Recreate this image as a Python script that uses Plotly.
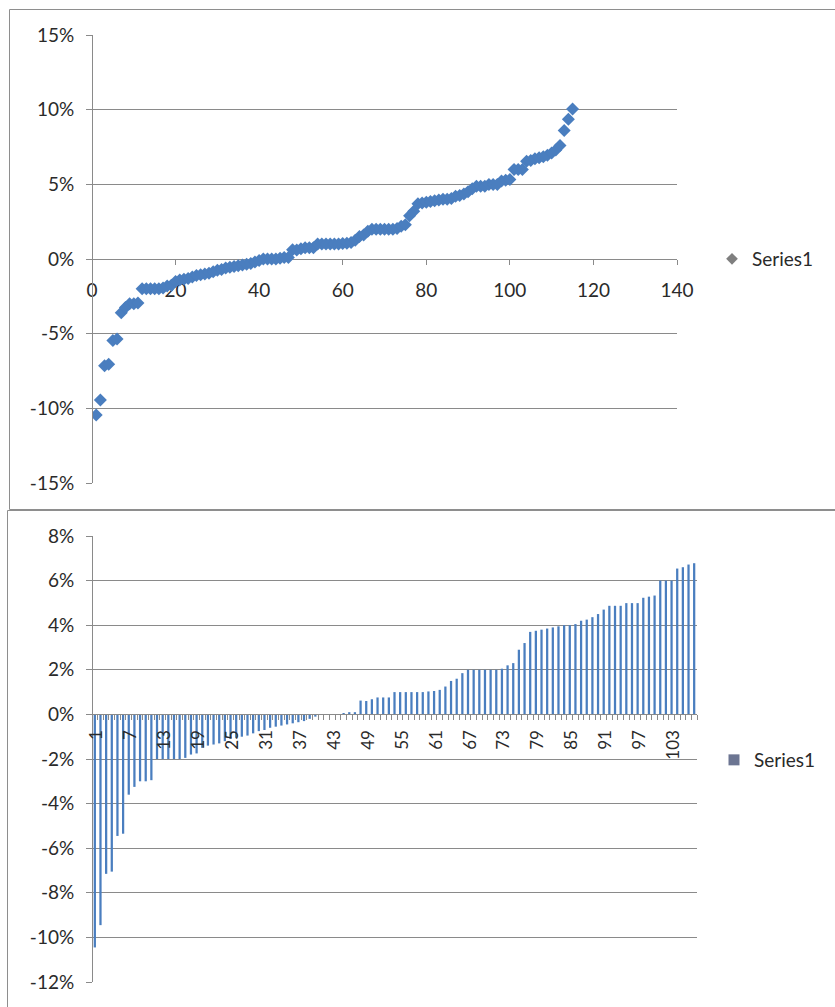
import plotly.graph_objects as go

# Sorted returns (percent), one value per observation
returns_pct = [
    -10.45, -9.45, -7.15, -7.05, -5.45, -5.35, -3.6, -3.25, -3.0, -3.0,
    -2.95, -2.0, -2.0, -2.0, -2.0, -2.0, -1.95, -1.8, -1.75, -1.5,
    -1.4, -1.35, -1.3, -1.2, -1.1, -1.05, -1.0, -0.95, -0.85, -0.75,
    -0.7, -0.6, -0.55, -0.5, -0.45, -0.4, -0.35, -0.3, -0.2, -0.1,
    0.0, 0.0, 0.0, 0.0, 0.05, 0.1, 0.1, 0.62, 0.6, 0.68,
    0.76, 0.76, 0.76, 1.0, 1.0, 1.0, 1.0, 1.0, 1.0, 1.03,
    1.05, 1.1, 1.25, 1.5, 1.6, 1.85, 2.0, 2.0, 2.0, 2.0,
    2.0, 2.0, 2.05, 2.2, 2.3, 2.9, 3.2, 3.7, 3.75, 3.8,
    3.85, 3.9, 3.95, 4.0, 4.0, 4.05, 4.2, 4.25, 4.36, 4.5,
    4.7, 4.87, 4.87, 4.87, 4.99, 4.99, 4.99, 5.23, 5.28, 5.33,
    6.0, 6.0, 6.0, 6.54, 6.6, 6.72, 6.78,
    6.85, 6.95, 7.1, 7.3, 7.6, 8.6, 9.35, 10.05,
]
obs_index = list(range(1, len(returns_pct) + 1))

# The column chart shows the first 107 observations
bar_count = 107
bar_index = obs_index[:bar_count]
bar_values = returns_pct[:bar_count]

series_name = "Series1"

top_yticks = [-15, -10, -5, 0, 5, 10, 15]
top_xticks = [0, 20, 40, 60, 80, 100, 120, 140]
bottom_yticks = [-12, -10, -8, -6, -4, -2, 0, 2, 4, 6, 8]
bottom_xticks = list(range(1, bar_count + 1, 6))

W, H = 835, 1007
FONT = "Lato, 'Open Sans', sans-serif"
TEXT = "#2a2a2a"
GRID = "#8a8a8a"
BLUE = "#4a7ebf"


def px(x):
    return x / W


def py(y):
    return 1 - y / H


fig = go.Figure()

fig.add_trace(go.Scatter(
    x=obs_index, y=returns_pct, mode="markers",
    marker=dict(symbol="diamond", size=10, color=BLUE, line=dict(width=0)),
    xaxis="x", yaxis="y", showlegend=False, name=series_name,
))
fig.add_trace(go.Scatter(
    x=[None], y=[None], mode="markers",
    marker=dict(symbol="diamond", size=9, color="#7f7f7f"),
    xaxis="x", yaxis="y", name=series_name, legend="legend",
))

fig.add_trace(go.Bar(
    x=bar_index, y=bar_values,
    marker=dict(color=BLUE, line=dict(width=0)),
    xaxis="x2", yaxis="y2", showlegend=False, name=series_name,
))
fig.add_trace(go.Scatter(
    x=[None], y=[None], mode="markers",
    marker=dict(symbol="square", size=11, color="#6c7592"),
    xaxis="x2", yaxis="y2", name=series_name, legend="legend2",
))

axis_font = dict(family=FONT, size=19, color=TEXT)

fig.update_layout(
    width=W, height=H,
    margin=dict(l=0, r=0, t=0, b=0, autoexpand=False),
    paper_bgcolor="white", plot_bgcolor="white",
    font=dict(family=FONT, color=TEXT),
    bargap=0.6, barmode="overlay",
    xaxis=dict(
        domain=[px(92), px(677)], range=[0, 140],
        tickvals=top_xticks, ticktext=[str(v) for v in top_xticks],
        anchor="free", position=py(259), automargin=False,
        showline=True, linecolor=GRID, linewidth=1,
        ticks="outside", ticklen=5, tickcolor=GRID,
        showgrid=False, zeroline=False, tickfont=axis_font,
        ticklabelstandoff=9, layer="below traces",
    ),
    yaxis=dict(
        domain=[py(483), py(35)], range=[-15, 15],
        tickvals=top_yticks, ticktext=[f"{v}%" for v in top_yticks],
        anchor="free", position=px(92), automargin=False,
        showline=True, linecolor=GRID, linewidth=1,
        ticks="outside", ticklen=6, tickcolor=GRID,
        showgrid=True, gridcolor=GRID, gridwidth=1, zeroline=False,
        tickfont=axis_font, ticklabelstandoff=8,
    ),
    xaxis2=dict(
        domain=[px(92), px(697)], range=[0.5, bar_count + 0.5],
        tickvals=bottom_xticks, ticktext=[str(v) for v in bottom_xticks],
        tickangle=-90, anchor="free", position=py(714.3), automargin=False,
        showline=True, linecolor=GRID, linewidth=1,
        ticks="", showgrid=False, zeroline=False,
        minor=dict(ticks="outside", tick0=0.5, dtick=1, ticklen=5,
                   tickcolor=GRID, showgrid=False),
        tickfont=dict(family=FONT, size=17, color=TEXT),
        ticklabelstandoff=8, ticklabelshift=2,
    ),
    yaxis2=dict(
        domain=[py(982), py(536)], range=[-12, 8],
        tickvals=bottom_yticks, ticktext=[f"{v}%" for v in bottom_yticks],
        anchor="free", position=px(92), automargin=False,
        showline=True, linecolor=GRID, linewidth=1,
        ticks="outside", ticklen=6, tickcolor=GRID,
        showgrid=True, gridcolor=GRID, gridwidth=1, zeroline=False,
        tickfont=axis_font, ticklabelstandoff=8,
    ),
    legend=dict(
        x=px(712), y=py(259), xanchor="left", yanchor="middle",
        bgcolor="rgba(0,0,0,0)", font=dict(family=FONT, size=19, color=TEXT),
        itemclick=False,
    ),
    legend2=dict(
        x=px(714), y=py(760), xanchor="left", yanchor="middle",
        bgcolor="rgba(0,0,0,0)", font=dict(family=FONT, size=19, color=TEXT),
        itemclick=False,
    ),
    shapes=[
        # chart frames
        dict(type="rect", xref="paper", yref="paper",
             x0=px(9.5), x1=1.02, y0=py(509.5), y1=py(9.5),
             line=dict(color="#8e8e8e", width=1), layer="below"),
        dict(type="rect", xref="paper", yref="paper",
             x0=px(7.5), x1=1.02, y0=-0.02, y1=py(510.5),
             line=dict(color="#8e8e8e", width=1), layer="below"),
    ],
)

fig.write_html("out.html")
